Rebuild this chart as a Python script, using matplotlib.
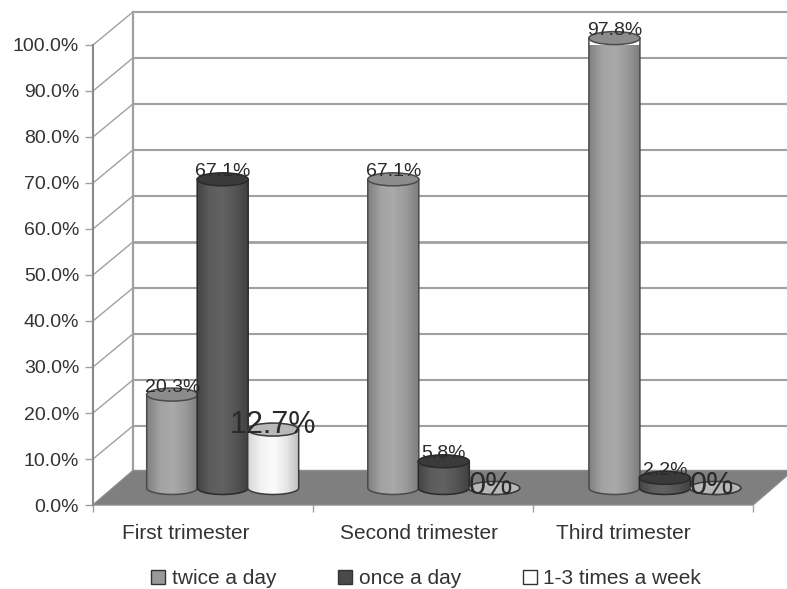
import numpy as np
import matplotlib
matplotlib.use("Agg")
import matplotlib.pyplot as plt
from matplotlib.path import Path
from matplotlib.patches import PathPatch, Polygon, Ellipse
from matplotlib.lines import Line2D
from matplotlib.colors import LinearSegmentedColormap

plt.rcParams['font.family'] = ['Liberation Sans', 'DejaVu Sans']

categories = ["First trimester", "Second trimester", "Third trimester"]
series_names = ["twice a day", "once a day", "1-3 times a week"]
twice_a_day = [20.3, 67.1, 97.8]
once_a_day = [67.1, 5.8, 2.2]
times_a_week = [12.7, 0, 0]
labels_twice = ["20.3%", "67.1%", "97.8%"]
labels_once = ["67.1%", "5.8%", "2.2%"]
labels_week = ["12.7%", "0%", "0%"]
y_ticks = list(range(0, 101, 10))

W, H = 787, 589
fig = plt.figure(figsize=(W/100, H/100), dpi=100)
L, R, T, B = 93, 753, 45, 505
ax = fig.add_axes([L/W, 1-B/H, (R-L)/W, (B-T)/H])
ax.set_xlim(0, 3); ax.set_ylim(0, 100)
sx, sy = 220.0, 4.6            # px per data unit
DX, DY = 40/sx, 34.5/sy        # depth of the box
OFF = 3.7                      # floor position of the cylinder centres
RX, RY = 25.5/sx, 6.5/sy
TXT = "#333333"
GRID = "#a0a0a0"

# floor
ax.add_patch(Polygon([(0, 0), (3, 0), (3+DX, DY), (DX, DY)], closed=True,
                     fc="#7f7f7f", ec="#8c8c8c", lw=1, zorder=2, clip_on=False))
# walls
for v in y_ticks:
    if v > 0:
        ax.plot([DX, 3+DX+0.2], [v+DY-0.3]*2, color=GRID, lw=2 if v == 50 else 1.5,
                zorder=1, clip_on=False)
    ax.plot([0, DX], [v, v+DY-0.3], color=GRID, lw=1, zorder=1, clip_on=False)
ax.plot([DX, DX], [DY, 100+DY-0.3], color=GRID, lw=1.6, zorder=1, clip_on=False)

cm_twice = LinearSegmentedColormap.from_list("a", ["#808080", "#a2a2a2", "#aaaaaa", "#9a9a9a", "#7e7e7e"])
cm_once = LinearSegmentedColormap.from_list("b", ["#444444", "#5c5c5c", "#626262", "#555555", "#424242"])
cm_week = LinearSegmentedColormap.from_list("c", ["#d8d8d8", "#f2f2f2", "#fbfbfb", "#e6e6e6", "#bcbcbc"])
grad = np.linspace(0, 1, 128).reshape(1, -1)


def cylinder(xc, value, cmap, top, edge, z):
    t = np.linspace(np.pi, 2*np.pi, 40)
    bx = xc + RX*np.cos(t)
    by = OFF + RY*np.sin(t)
    verts = [(xc-RX, OFF+value)] + list(zip(bx, by)) + [(xc+RX, OFF+value), (xc-RX, OFF+value)]
    codes = [Path.MOVETO] + [Path.LINETO]*(len(verts)-2) + [Path.CLOSEPOLY]
    path = Path(verts, codes)
    im = ax.imshow(grad, cmap=cmap, aspect="auto", zorder=z, vmin=0, vmax=1,
                   extent=(xc-RX, xc+RX, OFF-RY, OFF+value), clip_on=True)
    body = PathPatch(path, fc="none", ec=edge, lw=1.1, zorder=z+0.1, clip_on=False)
    ax.add_patch(body)
    im.set_clip_path(body)
    ax.add_patch(Ellipse((xc, OFF+value), 2*RX, 2*RY, fc=top, ec=edge, lw=1.1,
                         zorder=z+0.2, clip_on=False))


first = [0.36, 1.365, 2.37]
step = 0.2295
spec = [(twice_a_day, labels_twice, cm_twice, "#8c8c8c", "#4a4a4a", 14, 1.6),
        (once_a_day, labels_once, cm_once, "#3a3a3a", "#2a2a2a", 14, 1.6),
        (times_a_week, labels_week, cm_week, "#b8b8b8", "#3a3a3a", 22, 1.0)]
for s, (vals, labs, cm, top, edge, fs, lift) in enumerate(spec):
    for g, (v, lab) in enumerate(zip(vals, labs)):
        xc = first[g] + s*step
        zero = s == 2 and v == 0
        ax.text(xc - (0.015 if zero else 0), OFF+v+(0.4 if zero else lift), lab, ha="center", va="center",
                fontsize=fs, color="#2a2a2a", zorder=30, clip_on=False)
        cylinder(xc, v, cm, top, edge, 3 + s + g*3)

ax.set_xlim(0, 3); ax.set_ylim(0, 100)

# axes
for sp in ["top", "right", "bottom"]:
    ax.spines[sp].set_visible(False)
ax.spines["left"].set_color("#8a8a8a")
ax.spines["left"].set_linewidth(1.5)
ax.patch.set_visible(False)
ax.set_yticks(y_ticks)
ax.set_yticklabels([f"{v:.1f}%" for v in y_ticks], fontsize=14, color=TXT)
ax.tick_params(axis="y", length=6, width=1, color=GRID, pad=4)
ax.set_xticks([0, 1, 2, 3], minor=True)
ax.tick_params(axis="x", which="minor", length=5, width=1, color=GRID)
ax.set_xticks([0.42, 1.48, 2.41])
ax.set_xticklabels(categories, fontsize=15, color=TXT)
ax.tick_params(axis="x", which="major", length=0, pad=14)

handles = [Line2D([], [], ls="", marker="s", ms=9.5, mfc=c, mec="#333333", mew=1)
           for c in ["#9a9a9a", "#4a4a4a", "#ffffff"]]
fig.legend(handles, series_names, ncol=3, frameon=False, fontsize=15, labelcolor=TXT,
           loc="center", bbox_to_anchor=(423/W, 1-579/H), columnspacing=2.65,
           handletextpad=0.0, handlelength=1.3)

fig.savefig("out.png", dpi=100)
